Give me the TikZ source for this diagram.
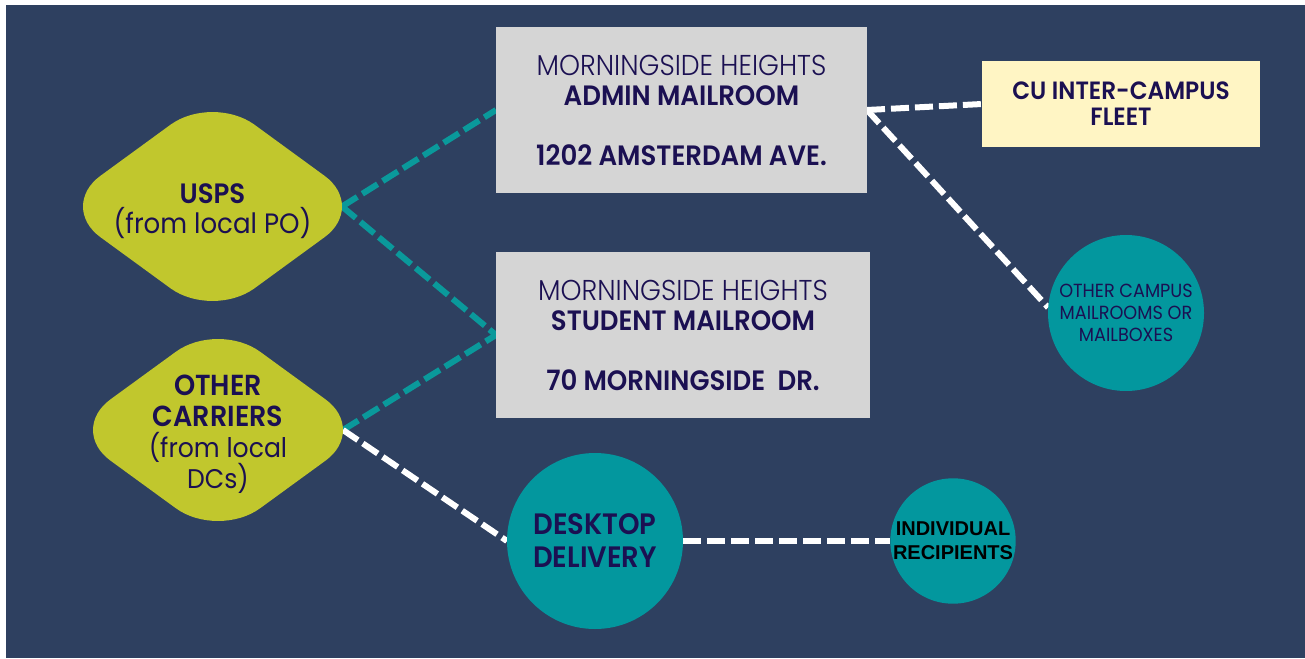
\documentclass[tikz,border=0pt]{standalone}
\usepackage{fontspec}
\usetikzlibrary{shapes.geometric}

\newfontfamily\popfont{Poppins}[FakeStretch=0.93, BoldFont={Poppins SemiBold}]
\newfontfamily\poplight{Poppins Light}[FakeStretch=0.93]
\newfontfamily\arialfont{Liberation Sans}

\definecolor{navy}{RGB}{46,64,96}
\definecolor{limefill}{RGB}{193,199,45}
\definecolor{boxgray}{RGB}{213,213,213}
\definecolor{cream}{RGB}{255,245,196}
\definecolor{tealfill}{RGB}{3,151,158}
\definecolor{tealline}{RGB}{10,153,155}
\definecolor{ink}{RGB}{27,16,82}

\pgfdeclarelayer{back}
\pgfsetlayers{back,main}

% line-level font helpers
\newcommand\heavy[2]{{\bfseries\fontsize{#1}{#1}\selectfont #2}}
\newcommand\thin[1]{{\poplight\fontsize{28.7}{30}\selectfont #1}}

\begin{document}
\begin{tikzpicture}[x=1pt,y=-1pt,
  txt/.style={text=ink, align=center},
  mailroom/.style={rectangle, fill=boxgray, inner sep=0pt, outer sep=0pt,
    minimum height=166pt, txt, font=\popfont\fontsize{28}{30}\selectfont},
  carrier/.style={diamond, aspect=1.37, fill=limefill, rounded corners=52pt,
    inner sep=0pt, outer sep=0pt},
  hub/.style={circle, fill=tealfill, inner sep=0pt, outer sep=0pt, txt},
  tealdash/.style={draw=tealline, line width=6pt, dash pattern=on 18pt off 6pt},
  whitedash/.style={draw=white, line width=6pt, dash pattern=on 18pt off 6pt}]

\useasboundingbox (0,0) rectangle (1305,658);

% carriers bringing mail in
\node[carrier, minimum width=308.2pt, minimum height=224.8pt] (usps) at (212.5,206.5) {};
\node[txt, font=\popfont\fontsize{28}{30}\selectfont] (usps text) at (212.5,211)
  {\heavy{28}{USPS}\\(from local PO)};
\node[carrier, minimum width=299.2pt, minimum height=217.8pt] (carriers) at (218,430) {};
\node[txt, font=\popfont\fontsize{27}{31}\selectfont] (carriers text) at (218,434)
  {\heavy{29}{OTHER}\\\heavy{29}{CARRIERS}\\(from local\\DCs)};

% mailrooms
\node[mailroom, minimum width=371pt] (admin) at (681.5,110)
  {\thin{MORNINGSIDE HEIGHTS}\\\textbf{ADMIN MAILROOM}\\[30pt]\textbf{1202 AMSTERDAM AVE.}};
\node[mailroom, minimum width=374pt] (student) at (683,335)
  {\thin{MORNINGSIDE HEIGHTS}\\\textbf{STUDENT MAILROOM}\\[30pt]\textbf{70 MORNINGSIDE\ \ DR.}};

% onward delivery
\node[rectangle, fill=cream, inner sep=0pt, outer sep=0pt, minimum width=278pt,
      minimum height=86pt, txt, font=\popfont\bfseries\fontsize{25}{26}\selectfont]
  (fleet) at (1121,104) {CU INTER-CAMPUS\\FLEET};
\node[hub, minimum size=156pt, font=\popfont\fontsize{19}{22}\selectfont]
  (campus) at (1126,313) {OTHER CAMPUS\\MAILROOMS OR\\MAILBOXES};
\node[hub, minimum size=176pt, font=\popfont\bfseries\fontsize{29.5}{33}\selectfont]
  (desktop) at (595,541) {DESKTOP\\DELIVERY};
\node[hub, minimum size=125pt, text=black,
      font=\arialfont\bfseries\fontsize{20}{24}\selectfont]
  (indiv) at (953,541) {INDIVIDUAL\\RECIPIENTS};

% rounded tips of the carrier shapes
\coordinate (usps tip) at ([xshift=-24.6pt]usps.east);
\coordinate (carriers tip) at ([xshift=-24.6pt]carriers.east);

\begin{pgfonlayer}{back}
  \fill[white] (0,0) rectangle (1305,658);
  \fill[navy] (6,5) rectangle (1305,658);
  \draw[tealdash] (usps tip) -- (admin.west);
  \draw[tealdash] (usps tip) -- (student.west);
  \draw[tealdash] (carriers tip) -- (student.west);
  \draw[whitedash] (carriers tip) -- (desktop.west);
  \draw[whitedash] (desktop.east) -- (indiv.west);
  \draw[whitedash] (admin.east) -- (fleet.west);
  \draw[whitedash] (admin.east) -- (campus.176);
\end{pgfonlayer}
\end{tikzpicture}
\end{document}
